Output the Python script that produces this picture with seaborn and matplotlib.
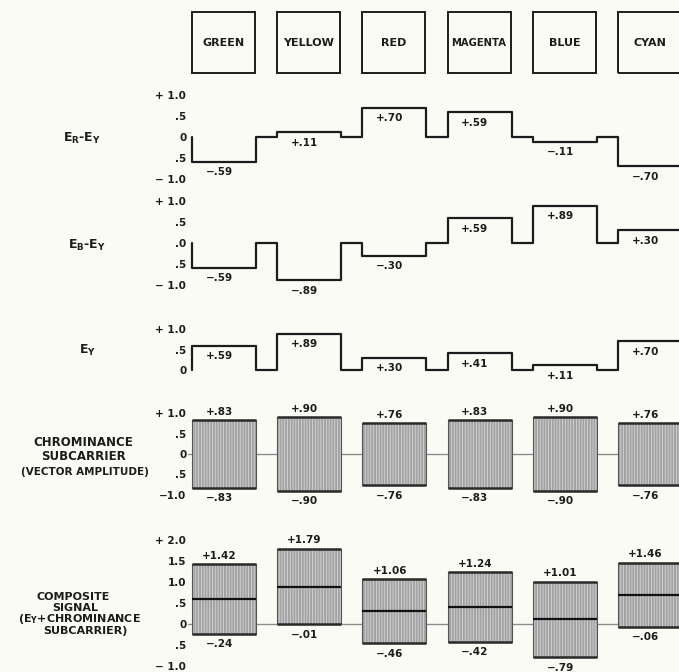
import matplotlib
matplotlib.use("Agg")
import matplotlib.pyplot as plt
import seaborn as sns

# colour bar order and signal levels
bar_names = ["GREEN", "YELLOW", "RED", "MAGENTA", "BLUE", "CYAN"]
r_minus_y = [-0.59, 0.11, 0.70, 0.59, -0.11, -0.70]
b_minus_y = [-0.59, -0.89, -0.30, 0.59, 0.89, 0.30]
luma = [0.59, 0.89, 0.30, 0.41, 0.11, 0.70]
chroma = [0.83, 0.90, 0.76, 0.83, 0.90, 0.76]
composite_hi = [1.42, 1.79, 1.06, 1.24, 1.01, 1.46]
composite_lo = [-0.24, -0.01, -0.46, -0.42, -0.79, -0.06]

# y tick labels as printed (the negative halves have no minus sign)
ticks_diff = [1.0, 0.5, 0.0, -0.5, -1.0]
labels_ry = ["+ 1.0", ".5", "0", ".5", "\u2212 1.0"]
labels_by = ["+ 1.0", ".5", ".0", ".5", "\u2212 1.0"]
ticks_luma = [1.0, 0.5, 0.0]
labels_luma = ["+ 1.0", ".5", "0"]
labels_chroma = ["+ 1.0", ".5", "0", ".5", "\u22121.0"]
ticks_comp = [2.0, 1.5, 1.0, 0.5, 0.0, -0.5, -1.0]
labels_comp = ["+ 2.0", "1.5", "1.0", ".5", "0", ".5", "\u2212 1.0"]

W, H = 679, 672
X0_PX, X_PPU = 192, 85.2
XLIM = (-0.05, 5.72)
BAR_W = 0.75
INK = "#1c1c1c"
PAPER = "#fbfbf6"


def fmt(v):
    s = f"{abs(v):.2f}"
    if s.startswith("0"):
        s = s[1:]
    return ("+" if v >= 0 else "\u2212") + s


def px_axes(fig, top, bottom):
    left = X0_PX + XLIM[0] * X_PPU
    right = X0_PX + XLIM[1] * X_PPU
    ax = fig.add_axes([left / W, 1 - bottom / H, (right - left) / W, (bottom - top) / H])
    ax.set_xlim(*XLIM)
    ax.patch.set_alpha(0)
    sns.despine(ax=ax, left=True, bottom=True)
    ax.set_xticks([])
    return ax


def panel(fig, zero_px, ppu, ylim, ticks, labels):
    ax = px_axes(fig, zero_px - ylim[1] * ppu, zero_px - ylim[0] * ppu)
    ax.set_ylim(*ylim)
    ax.set_yticks(ticks, labels)
    ax.tick_params(axis="y", length=0, pad=1, labelsize=7.5, labelcolor=INK)
    return ax


def step_panel(ax, levels):
    xs, ys = [], []
    for i, v in enumerate(levels):
        xs += [i, i, i + BAR_W, i + BAR_W]
        ys += [0, v, v, 0]
    sns.lineplot(x=xs, y=ys, estimator=None, sort=False, color=INK, lw=1.6, ax=ax)
    for i, v in enumerate(levels):
        ax.annotate(fmt(v), (i + 0.32, v), xytext=(0, -7.5), textcoords="offset points",
                    ha="center", va="center", fontsize=7.5, color=INK)


def box_panel(ax, lo, hi, mid=None):
    ax.axhline(0, color="#8c8c8c", lw=1.0, zorder=1)
    xs = [i for i in range(len(hi))]
    heights = [h - l for h, l in zip(hi, lo)]
    ax.bar(xs, heights, bottom=lo, width=BAR_W, align="edge", color="#a2a2a2",
           edgecolor="#d6d6d6", hatch="||||||", linewidth=0, zorder=2)
    ax.bar(xs, heights, bottom=lo, width=BAR_W, align="edge", fill=False,
           edgecolor="#555555", linewidth=0.8, zorder=3)
    ax.hlines(hi, xs, [x + BAR_W for x in xs], color="#2a2a2a", lw=1.8, zorder=4)
    ax.hlines(lo, xs, [x + BAR_W for x in xs], color="#2a2a2a", lw=1.8, zorder=4)
    if mid is not None:
        ax.hlines(mid, xs, [x + BAR_W for x in xs], color="#111111", lw=1.6, zorder=4)
    for i in xs:
        ax.annotate(fmt(hi[i]), (i + 0.32, hi[i]), xytext=(0, 6), textcoords="offset points",
                    ha="center", va="center", fontsize=7.5, color=INK)
        ax.annotate(fmt(lo[i]), (i + 0.32, lo[i]), xytext=(0, -7.5), textcoords="offset points",
                    ha="center", va="center", fontsize=7.5, color=INK)


def main():
    sns.set_style("white")
    plt.rcParams["font.family"] = ["DejaVu Sans"]
    plt.rcParams["font.weight"] = "bold"
    plt.rcParams["mathtext.default"] = "bf"
    plt.rcParams["hatch.linewidth"] = 0.6

    fig = plt.figure(figsize=(W / 100, H / 100), dpi=100, facecolor=PAPER)

    # colour name boxes along the top
    top = px_axes(fig, 12, 73)
    top.set_ylim(0, 1)
    top.set_yticks([])
    top.bar(range(len(bar_names)), 1, width=0.74, align="edge", fill=False,
            edgecolor=INK, linewidth=1.4, clip_on=False)
    for i, name in enumerate(bar_names):
        size = 7.2 if name == "MAGENTA" else 8
        top.text(i + 0.37, 0.5, name, ha="center", va="center", fontsize=size, color=INK)

    ax1 = panel(fig, 137, 42, (-1.12, 1.12), ticks_diff, labels_ry)
    step_panel(ax1, r_minus_y)

    ax2 = panel(fig, 243, 42, (-1.12, 1.12), ticks_diff, labels_by)
    step_panel(ax2, b_minus_y)

    ax3 = panel(fig, 370, 41, (-0.35, 1.12), ticks_luma, labels_luma)
    step_panel(ax3, luma)

    ax4 = panel(fig, 454, 41, (-1.15, 1.15), ticks_diff, labels_chroma)
    box_panel(ax4, [-c for c in chroma], chroma)

    ax5 = panel(fig, 624, 42, (-1.12, 2.12), ticks_comp, labels_comp)
    box_panel(ax5, composite_lo, composite_hi, mid=luma)

    # row titles on the left
    def label(x, y, s, size=8.5):
        fig.text(x / W, 1 - y / H, s, ha="center", va="center", fontsize=size, color=INK)

    label(82, 138, "E$_R$-E$_Y$", 9)
    label(87, 245, "E$_B$-E$_Y$", 9)
    label(88, 350, "E$_Y$", 9)
    label(83, 442, "CHROMINANCE")
    label(83, 457, "SUBCARRIER")
    label(85, 472, "(VECTOR AMPLITUDE)", 7.5)
    label(73, 597, "COMPOSITE", 8)
    label(75, 608, "SIGNAL", 8)
    label(79, 619, "(E$_Y$+CHROMINANCE", 8)
    label(85, 631, "SUBCARRIER)", 8)

    fig.savefig("out.png", dpi=100, facecolor=PAPER)
    plt.close(fig)


if __name__ == "__main__":
    main()
